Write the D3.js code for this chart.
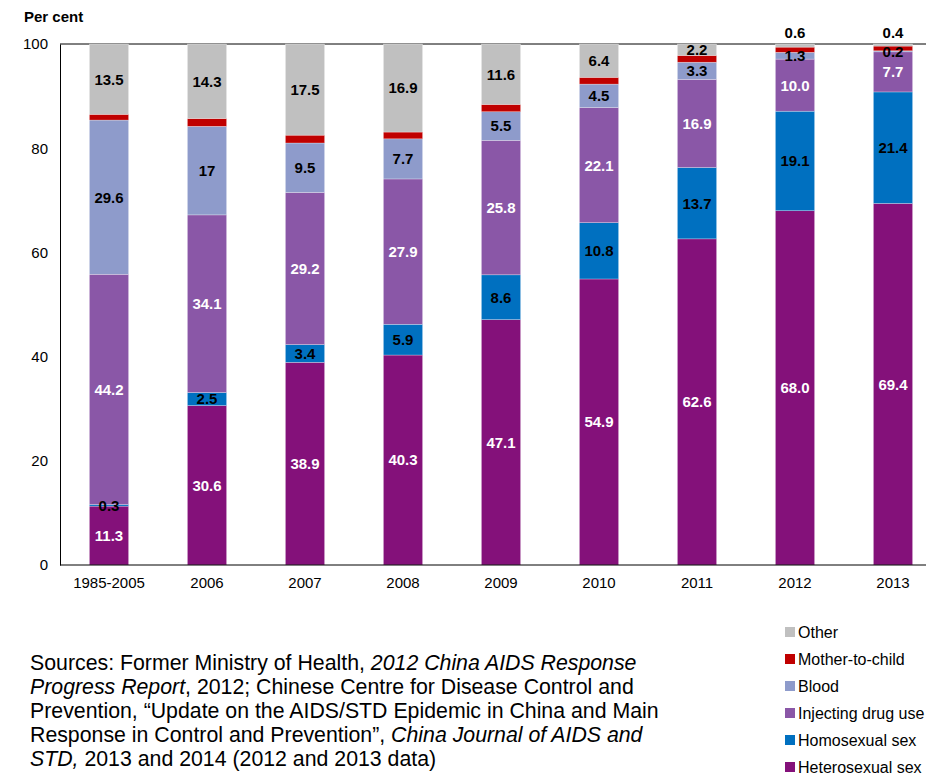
<!DOCTYPE html>
<html><head><meta charset="utf-8">
<script src="https://cdn.jsdelivr.net/npm/d3@7"></script>
<style>
body{margin:0;background:#fff;}
svg{display:block;font-family:Arial,"Liberation Sans",sans-serif;}
</style></head>
<body><svg id="c" width="926" height="776"></svg>
<script>
const categories = ["1985-2005","2006","2007","2008","2009","2010","2011","2012","2013"];
const heterosexual = [11.3,30.6,38.9,40.3,47.1,54.9,62.6,68.0,69.4];
const homosexual = [0.3,2.5,3.4,5.9,8.6,10.8,13.7,19.1,21.4];
const injecting = [44.2,34.1,29.2,27.9,25.8,22.1,16.9,10.0,7.7];
const blood = [29.6,17,9.5,7.7,5.5,4.5,3.3,1.3,0.2];
const motherToChild = [1.1,1.5,1.5,1.3,1.4,1.3,1.3,1.0,0.9];
const other = [13.5,14.3,17.5,16.9,11.6,6.4,2.2,0.6,0.4];
const yTicks = [0,20,40,60,80,100];
const seriesNames = ["Heterosexual sex","Homosexual sex","Injecting drug use","Blood","Mother-to-child","Other"];
const seriesLabels = ["11.3,30.6,38.9,40.3,47.1,54.9,62.6,68.0,69.4".split(","),
  "0.3,2.5,3.4,5.9,8.6,10.8,13.7,19.1,21.4".split(","),
  "44.2,34.1,29.2,27.9,25.8,22.1,16.9,10.0,7.7".split(","),
  "29.6,17,9.5,7.7,5.5,4.5,3.3,1.3,0.2".split(","),
  null,
  "13.5,14.3,17.5,16.9,11.6,6.4,2.2,0.6,0.4".split(",")];
const colors = ["#84117A","#0070C0","#8A57A7","#8E9BCB","#C00000","#C0C0C0"];
const labelColors = ["#fff","#000","#fff","#000","#000","#000"];

const svg = d3.select("#c");
const x = d3.scaleBand().domain(categories).range([60,942]).paddingInner(0.6).paddingOuter(0.3);
const y = d3.scaleLinear().domain([0,100]).range([565,44]);

const seriesData = [heterosexual,homosexual,injecting,blood,motherToChild,other];
const rows = categories.map((c,i)=>{const o={cat:c}; seriesNames.forEach((s,k)=>o[s]=seriesData[k][i]); return o;});
const stack = d3.stack().keys(seriesNames)(rows);

svg.append("line").attr("x1",60).attr("x2",926).attr("y1",y(100)).attr("y2",y(100)).attr("stroke","#000").attr("stroke-width",1);

stack.forEach((layer,k)=>{
  const g = svg.append("g");
  g.selectAll("rect").data(layer).join("rect")
    .attr("x",d=>x(d.data.cat)).attr("width",x.bandwidth())
    .attr("y",d=>y(d[1])).attr("height",d=>y(d[0])-y(d[1]))
    .attr("fill",colors[k]).attr("stroke","rgba(255,255,255,0.45)").attr("stroke-width",0.6);
});

stack.forEach((layer,k)=>{
  if(!seriesLabels[k]) return;
  svg.append("g").selectAll("text").data(layer).join("text")
    .attr("x",d=>x(d.data.cat)+x.bandwidth()/2)
    .attr("y",(d,i)=>{
      if(k===5 && (d[1]-d[0])<1.5) return y(100)-11;
      return (y(d[0])+y(d[1]))/2;
    })
    .attr("dy","0.36em")
    .attr("text-anchor","middle")
    .attr("font-size",15).attr("font-weight","bold")
    .attr("fill",(d)=> (k===5 && (d[1]-d[0])<1.5) ? "#000" : labelColors[k])
    .text((d,i)=>seriesLabels[k][i]);
});

const yAxis = svg.append("g").attr("transform","translate(60,0)")
  .call(d3.axisLeft(y).tickValues(yTicks).tickSize(0).tickPadding(12).tickFormat(d3.format("d")));
yAxis.select(".domain").attr("stroke","#000");
yAxis.selectAll("text").attr("font-size",15).attr("fill","#000").attr("font-family","Arial,'Liberation Sans',sans-serif");

const xAxis = svg.append("g").attr("transform","translate(0,565)")
  .call(d3.axisBottom(x).tickSize(0).tickPadding(12));
xAxis.select(".domain").attr("d","M60,0H926").attr("stroke","#000");
xAxis.selectAll("text").attr("font-size",15).attr("fill","#000").attr("font-family","Arial,'Liberation Sans',sans-serif");

svg.append("text").attr("x",24).attr("y",22).attr("font-size",15).attr("font-weight","bold").text("Per cent");

const legendOrder = [5,4,3,2,1,0];
const lg = svg.append("g");
legendOrder.forEach((k,j)=>{
  const ly = 632 + j*27;
  lg.append("rect").attr("x",785).attr("y",ly-5).attr("width",10).attr("height",10).attr("fill",colors[k]);
  lg.append("text").attr("x",798).attr("y",ly).attr("dy","0.36em").attr("font-size",16).text(seriesNames[k]);
});

const lines = [
  [["Sources: Former Ministry of Health, ",0],["2012 China AIDS Response",1]],
  [["Progress Report",1],[", 2012; Chinese Centre for Disease Control and",0]],
  [["Prevention, \u201cUpdate on the AIDS/STD Epidemic in China and Main",0]],
  [["Response in Control and Prevention\u201d, ",0],["China Journal of AIDS and",1]],
  [["STD,",1],[" 2013 and 2014 (2012 and 2013 data)",0]]
];
lines.forEach((ln,i)=>{
  const t = svg.append("text").attr("x",30).attr("y",670+i*24).attr("font-size",21.3);
  ln.forEach(([s,it])=>t.append("tspan").attr("font-style",it?"italic":"normal").text(s));
});
</script></body></html>
